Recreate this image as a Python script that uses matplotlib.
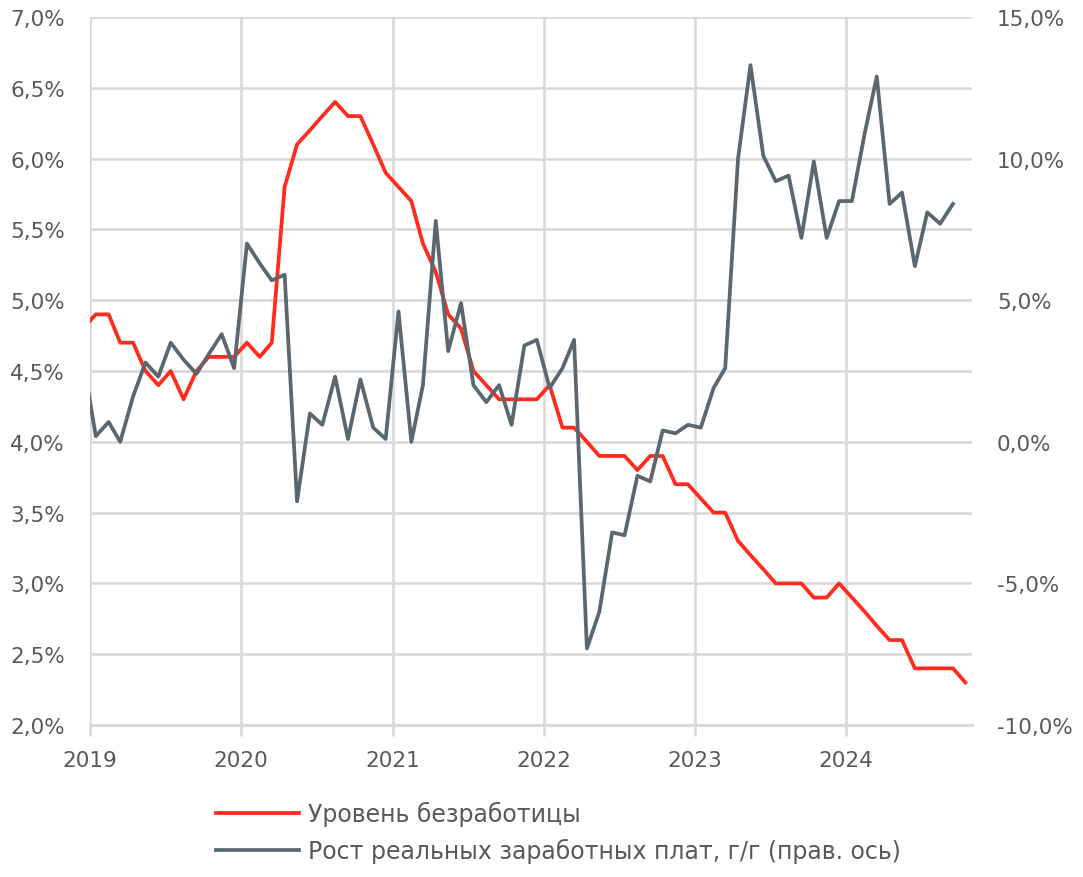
import matplotlib
matplotlib.use("Agg")
import matplotlib.pyplot as plt
import matplotlib.dates as mdates
from matplotlib.ticker import FuncFormatter, FixedLocator
import pandas as pd

# Monthly data, Dec 2018 .. Oct 2024 (unemployment) / Sep 2024 (real wages)
unemployment = [4.8,
    4.9, 4.9, 4.7, 4.7, 4.5, 4.4, 4.5, 4.3, 4.5, 4.6, 4.6, 4.6,
    4.7, 4.6, 4.7, 5.8, 6.1, 6.2, 6.3, 6.4, 6.3, 6.3, 6.1, 5.9,
    5.8, 5.7, 5.4, 5.2, 4.9, 4.8, 4.5, 4.4, 4.3, 4.3, 4.3, 4.3,
    4.4, 4.1, 4.1, 4.0, 3.9, 3.9, 3.9, 3.8, 3.9, 3.9, 3.7, 3.7,
    3.6, 3.5, 3.5, 3.3, 3.2, 3.1, 3.0, 3.0, 3.0, 2.9, 2.9, 3.0,
    2.9, 2.8, 2.7, 2.6, 2.6, 2.4, 2.4, 2.4, 2.4, 2.3]
real_wages = [2.9,
    0.2, 0.7, 0.0, 1.6, 2.8, 2.3, 3.5, 2.9, 2.4, 3.1, 3.8, 2.6,
    7.0, 6.3, 5.7, 5.9, -2.1, 1.0, 0.6, 2.3, 0.1, 2.2, 0.5, 0.1,
    4.6, 0.0, 2.0, 7.8, 3.2, 4.9, 2.0, 1.4, 2.0, 0.6, 3.4, 3.6,
    1.9, 2.6, 3.6, -7.3, -6.0, -3.2, -3.3, -1.2, -1.4, 0.4, 0.3, 0.6,
    0.5, 1.9, 2.6, 10.0, 13.3, 10.1, 9.2, 9.4, 7.2, 9.9, 7.2, 8.5,
    8.5, 10.9, 12.9, 8.4, 8.8, 6.2, 8.1, 7.7, 8.4]
start_month = "2018-12-01"
label_unemp = "Уровень безработицы"
label_wages = "Рост реальных заработных плат, г/г (прав. ось)"
year_ticks = ["2019", "2020", "2021", "2022", "2023", "2024"]
left_ticks = [2.0, 2.5, 3.0, 3.5, 4.0, 4.5, 5.0, 5.5, 6.0, 6.5, 7.0]
right_ticks = [-10, -5, 0, 5, 10, 15]

months_u = pd.date_range(start_month, periods=len(unemployment), freq="MS") + pd.Timedelta(days=14)
months_w = pd.date_range(start_month, periods=len(real_wages), freq="MS") + pd.Timedelta(days=14)

plt.rcParams['font.family'] = ['DejaVu Sans']
plt.rcParams['ytick.major.pad'] = 18
plt.rcParams['ytick.major.size'] = 0
TXT = "#595959"
GRID = "#D9D9D9"
RED = "#FF2B1C"
GRAY = "#5B6770"
FS = 15.5

fig = plt.figure(figsize=(10.83, 8.78), dpi=100)
ax = fig.add_axes([90/1083, 1-726/878, (972-90)/1083, (726-18)/878])
ax2 = ax.twinx()

l1, = ax.plot(months_u, unemployment, color=RED, lw=2.7, solid_joinstyle="round", zorder=3)
l2, = ax2.plot(months_w, real_wages, color=GRAY, lw=2.7, solid_joinstyle="round", zorder=3)

ax.set_xlim(pd.Timestamp("2019-01-01"), pd.Timestamp("2024-10-31"))
ax.set_ylim(2.0, 7.0)
ax2.set_ylim(-10, 15)

ax.xaxis.set_major_locator(FixedLocator([mdates.date2num(pd.Timestamp(y + "-01-01")) for y in year_ticks]))
ax.set_xticklabels(year_ticks)
fmt = FuncFormatter(lambda v, p: f"{v:.1f}%".replace(".", ","))
ax.yaxis.set_major_locator(FixedLocator(left_ticks))
ax.yaxis.set_major_formatter(fmt)
ax2.yaxis.set_major_locator(FixedLocator(right_ticks))
ax2.yaxis.set_major_formatter(fmt)

ax.grid(True, color=GRID, lw=1.9)
ax.set_axisbelow(True)
for a in (ax, ax2):
    for s in ("top", "right", "left", "bottom"):
        a.spines[s].set_visible(False)
ax.spines["bottom"].set_visible(True)
ax.spines["bottom"].set_color(GRID)
ax.spines["bottom"].set_linewidth(2.2)

ax.tick_params(axis="x", colors=TXT, labelsize=FS, length=8, width=1.9, color=GRID, pad=10)
ax.tick_params(axis="y", colors=TXT, labelsize=FS)
ax2.tick_params(axis="y", colors=TXT, labelsize=FS)

fig.legend([l1, l2], [label_unemp, label_wages], loc="upper left",
           bbox_to_anchor=(195/1083, 1-781/878), frameon=False, fontsize=17,
           handlelength=3.5, handletextpad=0.38, labelspacing=0.5, labelcolor=TXT)

fig.savefig("out.png", dpi=100)
